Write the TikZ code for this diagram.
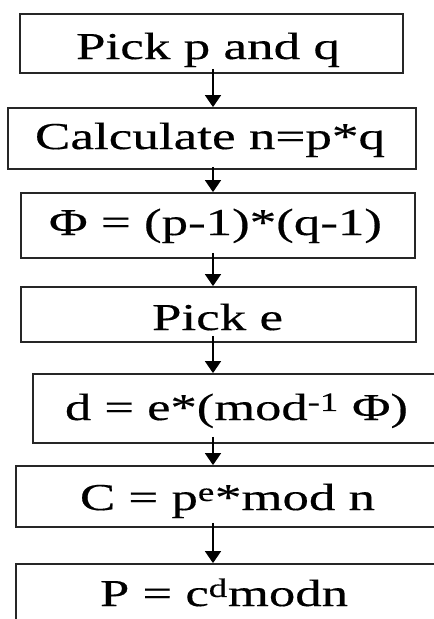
\documentclass[tikz,border=0pt]{standalone}
\usepackage{fontspec}
\setmainfont{Liberation Serif}
\newfontfamily\heavyserif[FakeBold=0.35]{Liberation Serif}
\usetikzlibrary{arrows.meta}
\newcommand{\hfit}[2]{\resizebox{#1pt}{\height}{#2}}
\begin{document}
\begin{tikzpicture}[x=1pt,y=-1pt,
  box/.style={draw=black!85, line width=1.8pt, inner sep=0pt, fill=none},
  txt/.style={inner sep=0pt, anchor=base, font=\heavyserif\fontsize{38}{40}\selectfont},
  arr/.style={draw=black, line width=1.6pt, -{Triangle[width=16pt,length=12pt]}}]
\useasboundingbox (0,0) rectangle (434,619);
\coordinate (ax) at (213,0);
% boxes
\node[box, minimum width=383pt, minimum height=59pt] (b1) at (211.5,43.5) {};
\node[box, minimum width=408pt, minimum height=61pt] (b2) at (212,138.5) {};
\node[box, minimum width=394pt, minimum height=65pt] (b3) at (218,225.5) {};
\node[box, minimum width=395pt, minimum height=55pt] (b4) at (218.5,314.5) {};
\node[box, minimum width=404pt, minimum height=69pt] (b5) at (235,408.5) {};
\node[box, minimum width=423pt, minimum height=61pt] (b6) at (227.5,496.5) {};
\node[box, minimum width=420pt, minimum height=61pt] (b7) at (226,594.5) {};
% texts
\node[txt] (t1) at (208,59) {\hfit{264}{Pick p and q}};
\node[txt] (t2) at (210,149) {\hfit{350}{Calculate n=p*q}};
\node[txt] (t3) at (215.5,235) {\hfit{333}{Φ = (p-1)*(q-1)}};
\node[txt] (t4) at (217.5,330) {\hfit{131}{Pick e}};
\node[txt] (t5) at (236.5,420) {\hfit{343}{d = e*(mod\textsuperscript{-1} Φ)}};
\node[txt] (t6) at (227.5,510) {\hfit{295}{C = p\textsuperscript{e}*mod n}};
\node[txt] (t7) at (224,606) {\hfit{248}{P = c\textsuperscript{d}modn}};
% arrows
\draw[arr] ([yshift=5pt]b1.south -| ax) -- (b2.north -| ax);
\draw[arr] ([yshift=3pt]b2.south -| ax) -- (b3.north -| ax);
\draw[arr] ([yshift=6pt]b3.south -| ax) -- (b4.north -| ax);
\draw[arr] ([yshift=7pt]b4.south -| ax) -- (b5.north -| ax);
\draw[arr] ([yshift=7pt]b5.south -| ax) -- (b6.north -| ax);
\draw[arr] ([yshift=5pt]b6.south -| ax) -- (b7.north -| ax);
\end{tikzpicture}
\end{document}
